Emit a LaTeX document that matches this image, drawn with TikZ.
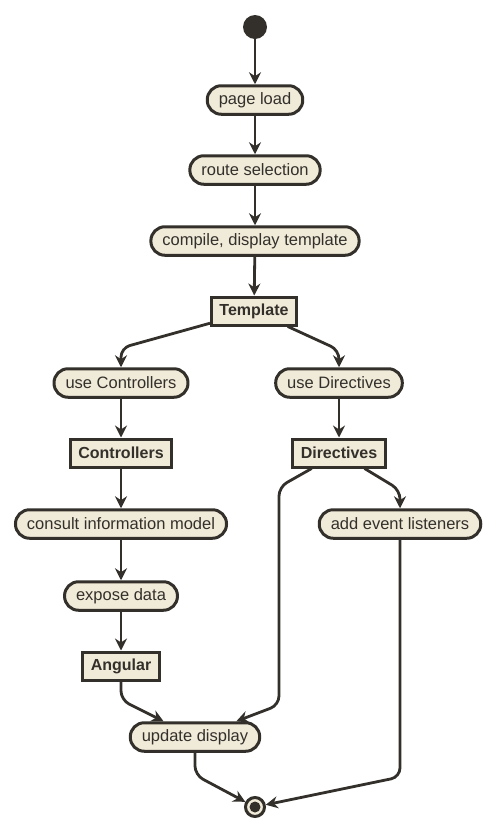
\documentclass[tikz,border=0pt]{standalone}
\usepackage{fontspec}
\setmainfont{Liberation Sans}
\usetikzlibrary{arrows.meta}
\definecolor{bg}{RGB}{240,234,216}
\definecolor{ink}{RGB}{51,48,43}
\tikzset{
  act/.style={rectangle, rounded corners=14pt, draw=ink, fill=bg, line width=3pt,
    minimum height=28.5pt, inner xsep=11.5pt, inner ysep=0pt, text=ink,
    font=\fontsize{16.5}{18}\selectfont},
  obj/.style={rectangle, draw=ink, fill=bg, line width=3pt,
    minimum height=28pt, inner xsep=8pt, inner ysep=0pt, text=ink,
    font=\fontsize{16}{18}\selectfont\bfseries},
  arr/.style={draw=ink, line width=2.8pt, rounded corners=9pt,
    -{Stealth[length=12pt,width=12pt,inset=4pt]}},
}
\begin{document}
\begin{tikzpicture}[x=1pt,y=-1pt]
\useasboundingbox (0,0) rectangle (491,836);
\node[circle, fill=ink, minimum size=24pt, inner sep=0pt] (start) at (255,27) {};
\node[act] (pl) at (255,100) {page load};
\node[act] (rs) at (255,170) {route selection};
\node[act] (cdt) at (255,241) {compile, display template};
\node[obj] (tmpl) at (254,311) {Template};
\node[act] (uc) at (121,383) {use Controllers};
\node[act] (ud) at (339,383) {use Directives};
\node[obj] (ctrl) at (121,453) {Controllers};
\node[obj] (dirs) at (339,453) {Directives};
\node[act] (cim) at (121,524) {consult information model};
\node[act] (ael) at (400,524) {add event listeners};
\node[act] (exp) at (121,596) {expose data};
\node[obj] (ang) at (121,666) {Angular};
\node[act] (upd) at (195,737) {update display};
\node[circle, draw=ink, fill=bg, line width=3pt, minimum size=19pt, inner sep=0pt] (endn) at (255,807) {};
\fill[ink] (endn.center) circle (5.5pt);

\draw[arr] (start) -- (pl);
\draw[arr] (pl) -- (rs);
\draw[arr] (rs) -- (cdt);
\draw[arr] (cdt) -- (tmpl);
\draw[arr] (tmpl) -- (121,348) -- (uc);
\draw[arr] (tmpl) -- (339,350) -- (ud);
\draw[arr] (uc) -- (ctrl);
\draw[arr] (ud) -- (dirs);
\draw[arr] (ctrl) -- (cim);
\draw[arr] (cim) -- (exp);
\draw[arr] (exp) -- (ang);
\draw[arr] (dirs) -- (279,487) -- (279,705) -- (upd);
\draw[arr] (dirs) -- (400,490) -- (ael);
\draw[arr] (ang) -- (121,700) -- (upd);
\draw[arr] (upd) -- (195,775) -- (endn);
\draw[arr] (ael) -- (400,777) -- (endn);
\end{tikzpicture}
\end{document}
